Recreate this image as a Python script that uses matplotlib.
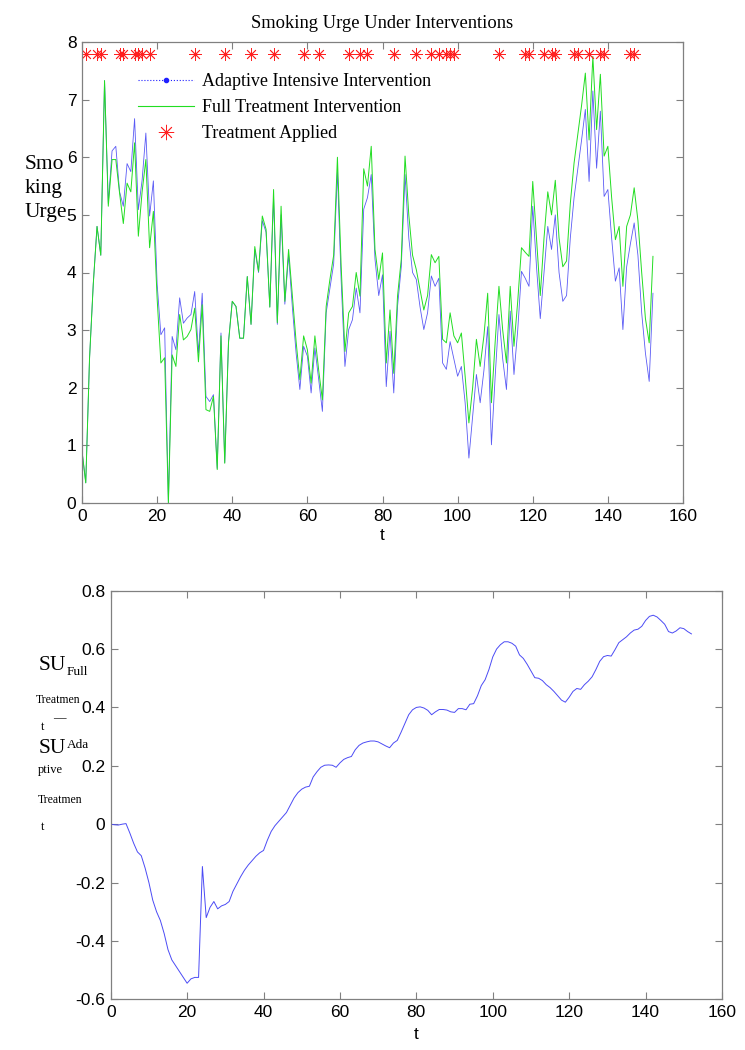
import numpy as np
import matplotlib.pyplot as plt
from matplotlib.lines import Line2D

# time steps
t = np.arange(0, 153)

# smoking urge, full treatment (green)
full_urge = [
    0.90, 0.35, 2.50, 3.80, 4.80, 4.30, 7.33, 5.15, 5.96, 5.96,
    5.38, 4.85, 5.55, 5.40, 6.25, 4.63, 5.40, 5.96, 4.43, 5.06,
    3.55, 2.43, 2.52, 0.00, 2.57, 2.37, 3.27, 2.83, 2.89, 3.01,
    3.38, 2.45, 3.44, 1.62, 1.59, 1.85, 0.58, 2.90, 0.69, 2.78,
    3.50, 3.41, 2.86, 2.86, 3.93, 3.10, 4.45, 4.02, 4.98, 4.75,
    3.40, 5.44, 3.13, 5.15, 3.50, 4.40, 3.60, 2.80, 2.14, 2.90,
    2.66, 2.08, 2.90, 2.31, 1.79, 3.41, 3.88, 4.30, 6.00, 4.10,
    2.63, 3.30, 3.41, 4.00, 3.59, 5.80, 5.50, 6.19, 4.40, 3.88,
    4.34, 2.43, 3.35, 2.25, 3.59, 4.23, 6.02, 5.00, 4.30, 4.05,
    3.70, 3.35, 3.60, 4.31, 4.17, 4.28, 2.84, 2.78, 3.30, 2.90,
    2.78, 2.95, 2.20, 1.39, 2.00, 2.84, 2.37, 2.90, 3.64, 1.74,
    2.80, 3.76, 3.00, 2.43, 3.76, 2.72, 3.50, 4.43, 4.35, 4.28,
    5.58, 4.60, 3.60, 4.60, 5.40, 5.00, 5.60, 4.60, 4.10, 4.20,
    5.20, 5.90, 6.40, 6.90, 7.46, 6.30, 7.75, 6.48, 7.44, 6.02,
    6.19, 5.30, 4.57, 4.80, 3.76, 4.80, 5.00, 5.47, 4.90, 4.00,
    3.20, 2.78, 4.28,
]

# smoking urge, adaptive intensive (blue)
adaptive_urge = [
    0.90, 0.35, 2.50, 3.80, 4.80, 4.30, 7.33, 5.20, 6.11, 6.19,
    5.40, 5.15, 5.89, 5.75, 6.67, 5.09, 5.60, 6.42, 4.98, 5.59,
    3.80, 2.92, 3.04, 0.00, 2.89, 2.66, 3.56, 3.12, 3.21, 3.27,
    3.67, 2.60, 3.64, 1.85, 1.76, 1.88, 0.60, 2.95, 0.70, 2.80,
    3.50, 3.41, 2.86, 2.86, 3.93, 3.10, 4.40, 4.00, 4.90, 4.70,
    3.40, 5.30, 3.10, 5.00, 3.45, 4.30, 3.40, 2.60, 1.97, 2.72,
    2.55, 1.91, 2.69, 2.15, 1.59, 3.30, 3.73, 4.15, 5.75, 3.85,
    2.37, 3.01, 3.18, 3.73, 3.30, 5.10, 5.30, 5.70, 4.23, 3.60,
    3.96, 2.02, 2.98, 1.91, 3.41, 4.10, 5.70, 4.60, 4.00, 3.88,
    3.40, 3.01, 3.30, 3.94, 3.76, 3.90, 2.43, 2.32, 2.80, 2.50,
    2.20, 2.37, 1.74, 0.78, 1.50, 2.23, 1.74, 2.30, 3.06, 1.01,
    2.20, 3.27, 2.50, 1.97, 3.33, 2.23, 3.00, 4.02, 3.90, 3.76,
    5.15, 4.10, 3.20, 4.00, 4.80, 4.40, 5.00, 4.00, 3.50, 3.60,
    4.60, 5.30, 5.80, 6.30, 6.83, 5.58, 7.15, 5.81, 6.80, 5.32,
    5.44, 4.60, 3.85, 4.08, 3.01, 4.10, 4.50, 4.86, 4.30, 3.30,
    2.60, 2.11, 3.64,
]

# times where treatment was applied
treat_times = [1, 4, 5, 10, 11, 14, 15, 16, 18, 30, 38, 45, 51, 59, 63,
               71, 74, 76, 83, 89, 93, 95, 97, 98, 99, 111, 118, 119, 123,
               125, 126, 131, 132, 135, 138, 139, 146, 147]
treat_level = 7.8

# SU_full - SU_adaptive
su_diff = [
    0.000, -0.002, -0.003, 0.000, 0.002, -0.030, -0.065, -0.095, -0.108, -0.150,
    -0.200, -0.260, -0.300, -0.330, -0.375, -0.430, -0.465, -0.485, -0.505, -0.525,
    -0.545, -0.530, -0.525, -0.525, -0.145, -0.320, -0.285, -0.265, -0.290, -0.280,
    -0.275, -0.265, -0.230, -0.205, -0.180, -0.158, -0.140, -0.125, -0.110, -0.098,
    -0.090, -0.055, -0.025, -0.005, 0.010, 0.025, 0.040, 0.065, 0.090, 0.108,
    0.120, 0.127, 0.130, 0.162, 0.180, 0.195, 0.202, 0.203, 0.202, 0.195,
    0.210, 0.222, 0.228, 0.232, 0.255, 0.270, 0.278, 0.282, 0.285, 0.285,
    0.282, 0.275, 0.268, 0.262, 0.278, 0.287, 0.315, 0.345, 0.375, 0.392,
    0.400, 0.402, 0.398, 0.390, 0.375, 0.385, 0.393, 0.393, 0.391, 0.385,
    0.383, 0.396, 0.396, 0.392, 0.411, 0.413, 0.440, 0.475, 0.495, 0.530,
    0.573, 0.600, 0.615, 0.625, 0.625, 0.620, 0.610, 0.580, 0.568, 0.548,
    0.525, 0.502, 0.500, 0.492, 0.478, 0.468, 0.455, 0.440, 0.425, 0.418,
    0.435, 0.455, 0.465, 0.462, 0.478, 0.490, 0.505, 0.530, 0.558, 0.574,
    0.578, 0.576, 0.598, 0.622, 0.632, 0.642, 0.655, 0.665, 0.668, 0.678,
    0.698, 0.712, 0.716, 0.710, 0.698, 0.685, 0.660, 0.655, 0.662, 0.673,
    0.670, 0.660, 0.652,
]

SERIF = "Liberation Serif"
SANS = "Liberation Sans"
plt.rcParams["font.family"] = SANS

W, H = 745, 1050
fig = plt.figure(figsize=(W / 100, H / 100), dpi=100)


def px_axes(l, r, top, bot):
    return fig.add_axes([l / W, 1 - bot / H, (r - l) / W, (bot - top) / H])


def matlab_style(ax):
    for s in ax.spines.values():
        s.set_color("#808080")
        s.set_linewidth(0.9)
    ax.tick_params(direction="in", length=5, width=0.8, color="#808080",
                   top=True, right=True, labelsize=12.5, labelcolor="black", pad=4)


# ---- top panel ----
ax1 = px_axes(82, 683, 42, 503)
ax1.plot(t, adaptive_urge, color="#5a5af5", lw=0.6)
ax1.plot(t, full_urge, color="#22dd22", lw=0.7)
ax1.plot(treat_times, [treat_level] * len(treat_times), linestyle="none",
         marker=(8, 2, 0), ms=9, mew=0.6, color="#ff2020")
ax1.set_xlim(0, 160)
ax1.set_ylim(0, 8)
ax1.set_xticks(range(0, 161, 20))
ax1.set_yticks(range(0, 9))
matlab_style(ax1)
ax1.set_title("Smoking Urge Under Interventions", fontfamily=SERIF,
              fontsize=13.3, pad=10)
ax1.set_xlabel("t", fontsize=12.5, labelpad=3)
fig.text(25 / W, 1 - 217 / H, "Smo\nking\nUrge", fontfamily=SERIF,
         fontsize=15.5, ha="left", va="baseline", linespacing=1.36)

handles = [
    Line2D([], [], color="#2020ff", lw=0.8, ls=":", marker=".", ms=6),
    Line2D([], [], color="#22dd22", lw=0.8),
    Line2D([], [], color="#ff2020", ls="none", marker=(8, 2, 0), ms=11, mew=0.6),
]
labels = ["Adaptive Intensive Intervention", "Full Treatment Intervention",
          "Treatment Applied"]
ax1.legend(handles, labels, loc="upper left",
           bbox_to_anchor=((138 - 82) / 601, 1 - (73 - 42) / 461),
           frameon=False, prop={"family": SERIF, "size": 13},
           handlelength=3.1, handletextpad=0.45, labelspacing=0.5,
           borderpad=0, borderaxespad=0)

# ---- bottom panel ----
ax2 = px_axes(110.7, 722, 590.7, 999.3)
ax2.plot(t, su_diff, color="#4b4bf5", lw=0.7)
ax2.set_xlim(0, 160)
ax2.set_ylim(-0.6, 0.8)
ax2.set_xticks(range(0, 161, 20))
ax2.set_yticks(np.round(np.arange(-0.6, 0.81, 0.2), 1))
ax2.set_yticklabels(["-0.6", "-0.4", "-0.2", "0", "0.2", "0.4", "0.6", "0.8"])
matlab_style(ax2)
ax2.set_xlabel("t", fontsize=12.5, labelpad=5)

# wrapped y label of the bottom panel
def lab(x, y, s, size):
    fig.text(x / W, 1 - y / H, s, fontfamily=SERIF, fontsize=size,
             ha="left", va="baseline")

lab(39, 670, "SU", 15.5)
lab(67, 675, "Full", 9.5)
lab(36, 703, "Treatmen", 8.5)
lab(41, 730, "t", 9)
lab(53, 721, "\u2014", 9)
lab(39, 753, "SU", 15.5)
lab(67, 748, "Ada", 9.5)
lab(38, 773, "ptive", 9)
lab(38, 803, "Treatmen", 8.5)
lab(41, 830, "t", 9)

fig.savefig("out.png", dpi=100)
